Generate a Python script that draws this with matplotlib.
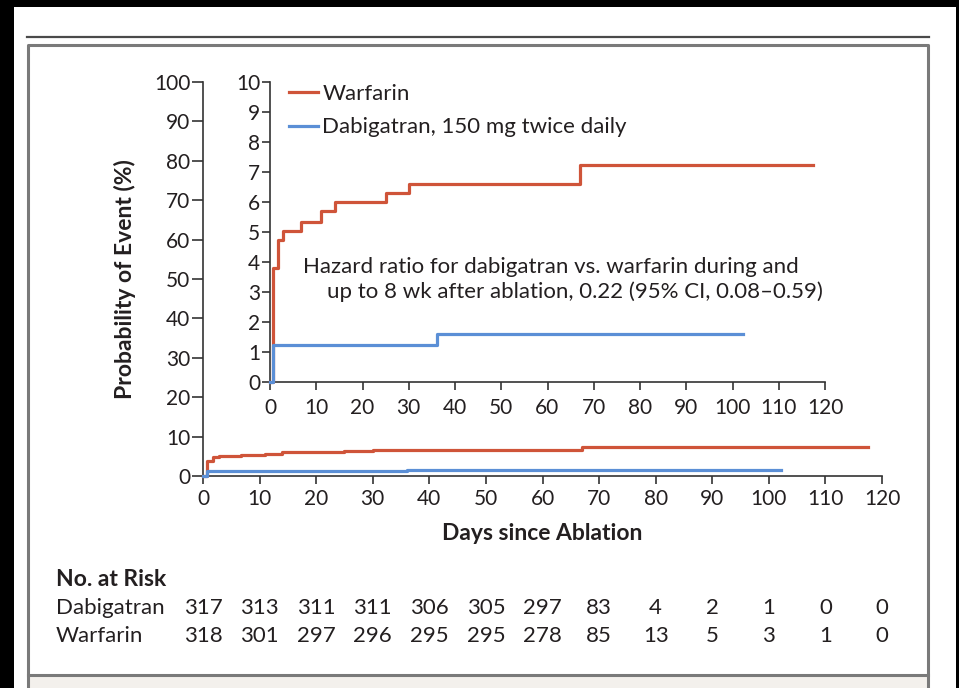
import numpy as np
import matplotlib
matplotlib.use("Agg")
import matplotlib.pyplot as plt
from matplotlib import font_manager
from matplotlib.patches import Rectangle
from matplotlib.lines import Line2D

# police : etroite si disponible
noms = set(f.name for f in font_manager.fontManager.ttflist)
police = "Liberation Sans Narrow" if "Liberation Sans Narrow" in noms else "Lato"
plt.rcParams["font.family"] = [police, "DejaVu Sans"]

# Donnees
jours_warf = [0, 0.7, 1.8, 2.8, 6.8, 11, 14, 25, 30, 67, 117.5]
proba_warf = [0, 3.8, 4.75, 5.05, 5.35, 5.7, 6.0, 6.3, 6.6, 7.25, 7.25]
jours_dabi = [0, 0.7, 36, 102.2]
proba_dabi = [0, 1.25, 1.6, 1.6]

jours_risque = [0, 10, 20, 30, 40, 50, 60, 70, 80, 90, 100, 110, 120]
risque_dabi = [317, 313, 311, 311, 306, 305, 297, 83, 4, 2, 1, 0, 0]
risque_warf = [318, 301, 297, 296, 295, 295, 278, 85, 13, 5, 3, 1, 0]

rouge = "#cf5439"
bleu = "#5b8fd6"
texte = "#231f20"
gris = "#333333"

W, H = 959, 688
def px(x): return x / W
def py(y): return 1 - y / H

fig = plt.figure(figsize=(9.59, 6.88), dpi=100, facecolor="black")

# cadre
fig.patches.append(Rectangle((px(14), 0), px(956) - px(14), py(7), transform=fig.transFigure,
                             facecolor="white", edgecolor="none", zorder=-10))
fig.patches.append(Rectangle((px(28), 0), px(928) - px(28), py(675), transform=fig.transFigure,
                             facecolor="#f3f0ec", edgecolor="none", zorder=-9))
fig.lines.append(Line2D([px(27), px(929)], [py(37), py(37)], transform=fig.transFigure,
                        color="#4a4a4a", lw=1.6))
fig.lines.append(Line2D([px(28), px(28), px(928), px(928)], [0, py(44.5), py(44.5), 0],
                        transform=fig.transFigure, color="#7a7a7a", lw=2.2))
fig.lines.append(Line2D([px(28), px(928)], [py(674.5), py(674.5)], transform=fig.transFigure,
                        color="#7a7a7a", lw=2.2))

def style_axe(ax):
    for s in ["top", "right"]:
        ax.spines[s].set_visible(False)
    for s in ["left", "bottom"]:
        ax.spines[s].set_color(gris)
        ax.spines[s].set_linewidth(1.2)
    ax.tick_params(direction="out", length=6, width=1.2, color=gris, labelsize=15,
                   labelcolor=texte, pad=1)
    ax.set_facecolor("none")

# graphique principal
ax = fig.add_axes([px(203), py(476), px(882) - px(203), py(82) - py(476)])
style_axe(ax)
ax.plot(jours_warf, proba_warf, color=rouge, lw=2.3, drawstyle="steps-post", clip_on=False, zorder=3)
ax.plot(jours_dabi, proba_dabi, color=bleu, lw=2.3, drawstyle="steps-post", clip_on=False, zorder=4)
ax.set_xlim(0, 120)
ax.set_ylim(0, 100)
ax.set_xticks(range(0, 121, 10))
ax.set_yticks(range(0, 101, 10))
ax.tick_params(axis="y", length=8)
ax.tick_params(axis="x", pad=3.5)

# encart
axi = fig.add_axes([px(270), py(382), px(825) - px(270), py(82) - py(382)])
style_axe(axi)
lw_, = axi.plot(jours_warf, proba_warf, color=rouge, lw=2.3, drawstyle="steps-post", clip_on=False, zorder=3)
ld_, = axi.plot(jours_dabi, proba_dabi, color=bleu, lw=2.3, drawstyle="steps-post", clip_on=False, zorder=4)
axi.set_xlim(0, 120)
axi.set_ylim(0, 10)
axi.set_xticks(range(0, 121, 10))
axi.set_yticks(range(0, 11, 1))
axi.tick_params(axis="x", pad=5.5)

axi.legend([lw_, ld_], ["Warfarin", "Dabigatran, 150 mg twice daily"], loc="upper left",
           bbox_to_anchor=(px(289), py(84)), bbox_transform=fig.transFigure, frameon=False,
           fontsize=16, handlelength=1.3, handletextpad=0.2, labelspacing=0.6,
           borderpad=0, borderaxespad=0, labelcolor=texte)

axi.text(px(303), py(267), "Hazard ratio for dabigatran vs. warfarin during and",
         transform=fig.transFigure, ha="left", va="center", fontsize=16, color=texte)
axi.text(px(327), py(292), "up to 8 wk after ablation, 0.22 (95% CI, 0.08\u20130.59)",
         transform=fig.transFigure, ha="left", va="center", fontsize=16, color=texte)

# etiquettes des axes
fig.text(px(125), py(279), "Probability of Event (%)", rotation=90, ha="center", va="center",
         fontsize=16.5, fontweight="bold", color=texte)
fig.text(px(542), py(533), "Days since Ablation", ha="center", va="center",
         fontsize=16.5, fontweight="bold", color=texte)

# nombre de sujets a risque
fig.text(px(56), py(580), "No. at Risk", ha="left", va="center", fontsize=16.5,
         fontweight="bold", color=texte)
mixte = matplotlib.transforms.blended_transform_factory(ax.transData, fig.transFigure)
for nom, valeurs, y in [("Dabigatran", risque_dabi, 608), ("Warfarin", risque_warf, 636)]:
    fig.text(px(56), py(y), nom, ha="left", va="center", fontsize=16, color=texte)
    for j, v in zip(jours_risque, valeurs):
        ax.text(j, py(y), str(v), transform=mixte, ha="center", va="center",
                fontsize=16, color=texte, clip_on=False)

fig.savefig("out.png", dpi=100, facecolor=fig.get_facecolor())
